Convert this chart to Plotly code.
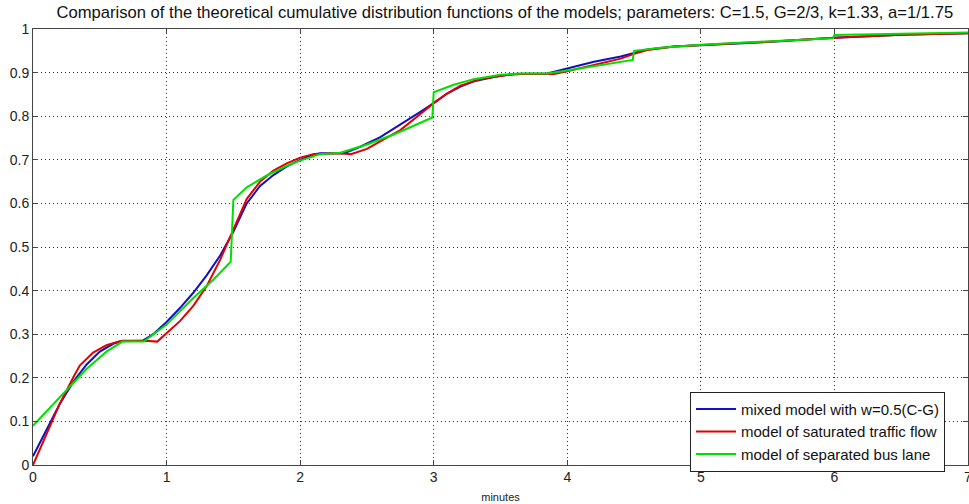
import plotly.graph_objects as go

# mixed model with w=0.5(C-G)
blue_x = [0, 0.1, 0.2, 0.3, 0.4, 0.5, 0.6, 0.67, 0.82, 0.9, 1.0, 1.1, 1.2, 1.3, 1.4, 1.5, 1.6, 1.7, 1.8, 1.9,
          2.0, 2.1, 2.15, 2.33, 2.45, 2.6, 2.75, 2.9, 3.0, 3.1, 3.2, 3.3, 3.45, 3.6, 3.85, 4.0, 4.2, 4.4, 4.5,
          4.6, 4.8, 5.0, 5.5, 6.0, 6.5, 7.0]
blue_y = [0.02, 0.08, 0.14, 0.19, 0.23, 0.26, 0.278, 0.285, 0.285, 0.30, 0.328, 0.36, 0.395, 0.435, 0.48,
          0.535, 0.60, 0.64, 0.665, 0.685, 0.70, 0.712, 0.715, 0.715, 0.73, 0.752, 0.78, 0.81, 0.83, 0.852,
          0.868, 0.88, 0.89, 0.897, 0.898, 0.91, 0.925, 0.937, 0.945, 0.953, 0.96, 0.963, 0.97, 0.98, 0.987, 0.99]

# model of saturated traffic flow
red_x = [0, 0.1, 0.2, 0.3, 0.35, 0.45, 0.55, 0.65, 0.84, 0.93, 1.0, 1.1, 1.2, 1.3, 1.4, 1.5, 1.6, 1.7, 1.8,
         1.9, 2.0, 2.1, 2.3, 2.38, 2.5, 2.6, 2.75, 2.9, 3.0, 3.1, 3.2, 3.35, 3.5, 3.65, 3.9, 4.0, 4.2, 4.4,
         4.5, 4.6, 4.8, 5.0, 5.5, 6.0, 6.5, 7.0]
red_y = [0.0, 0.07, 0.14, 0.2, 0.228, 0.258, 0.275, 0.284, 0.285, 0.283, 0.303, 0.33, 0.365, 0.41, 0.47,
         0.54, 0.61, 0.65, 0.675, 0.692, 0.705, 0.713, 0.715, 0.713, 0.725, 0.742, 0.768, 0.805, 0.83, 0.852,
         0.87, 0.885, 0.893, 0.897, 0.897, 0.903, 0.918, 0.932, 0.943, 0.952, 0.96, 0.963, 0.971, 0.98, 0.987, 0.99]

# model of separated bus lane
green_x = [0, 0.2, 0.4, 0.55, 0.67, 0.83, 0.95, 1.0, 1.2, 1.35, 1.48, 1.5, 1.6, 1.75, 1.9, 2.0, 2.15, 2.3,
           2.5, 2.7, 2.85, 2.99, 3.0, 3.15, 3.3, 3.5, 3.65, 3.85, 4.0, 4.2, 4.49, 4.5, 4.7, 5.0, 5.5, 5.99,
           6.0, 6.5, 7.0]
green_y = [0.09, 0.155, 0.22, 0.26, 0.283, 0.283, 0.31, 0.322, 0.383, 0.425, 0.466, 0.608, 0.637, 0.664,
           0.686, 0.698, 0.713, 0.716, 0.735, 0.758, 0.778, 0.797, 0.855, 0.872, 0.885, 0.895, 0.898, 0.898,
           0.905, 0.915, 0.929, 0.95, 0.957, 0.964, 0.971, 0.979, 0.986, 0.989, 0.992]

x_ticks = [0, 1, 2, 3, 4, 5, 6, 7]
y_ticks = [0, 0.1, 0.2, 0.3, 0.4, 0.5, 0.6, 0.7, 0.8, 0.9, 1]
y_tick_text = ["0", "0.1", "0.2", "0.3", "0.4", "0.5", "0.6", "0.7", "0.8", "0.9", "1"]

names = ["mixed model with w=0.5(C-G)", "model of saturated traffic flow", "model of separated bus lane"]
title = ("Comparison of the theoretical cumulative distribution functions of the models; "
         "parameters: C=1.5, G=2/3, k=1.33, a=1/1.75")

fig = go.Figure()
fig.add_trace(go.Scatter(x=blue_x, y=blue_y, mode="lines", name=names[0],
                         line=dict(color="#1010c0", width=2)))
fig.add_trace(go.Scatter(x=red_x, y=red_y, mode="lines", name=names[1],
                         line=dict(color="#e00000", width=2)))
fig.add_trace(go.Scatter(x=green_x, y=green_y, mode="lines", name=names[2],
                         line=dict(color="#00e000", width=2)))

axis_common = dict(
    showline=True, linecolor="#444444", linewidth=1, mirror="ticks",
    ticks="inside", ticklen=5, tickcolor="#444444",
    showgrid=True, gridcolor="#333333", griddash="1px,3px", gridwidth=1,
    zeroline=False, automargin=False, ticklabeloverflow="allow",
    tickfont=dict(family="Liberation Sans", size=14, color="#222222"),
)

fig.update_layout(
    width=969, height=504,
    margin=dict(l=33, r=1, t=29, b=39),
    paper_bgcolor="white", plot_bgcolor="white",
    title=dict(text=title, x=0.521, xanchor="center", y=0.976, yanchor="middle",
               font=dict(family="Liberation Sans", size=16.6, color="#111111")),
    xaxis=dict(range=[0, 7], tickvals=x_ticks, ticktext=[str(t) for t in x_ticks],
               ticklabelstandoff=-1,
               title=dict(text="minutes", font=dict(family="Liberation Sans", size=11, color="#222222"),
                          standoff=9),
               **axis_common),
    yaxis=dict(range=[0, 1], tickvals=y_ticks, ticktext=y_tick_text, **axis_common),
    legend=dict(x=0.7027, y=0.168, xanchor="left", yanchor="top", bgcolor="white",
                bordercolor="#222222", borderwidth=1,
                font=dict(family="Liberation Sans", size=15, color="#111111"),
                tracegroupgap=0, itemwidth=40),
    showlegend=True,
)

fig.write_html("out.html", config={"displayModeBar": False},
               post_script="document.body.style.margin='0';document.body.style.overflow='hidden';")
